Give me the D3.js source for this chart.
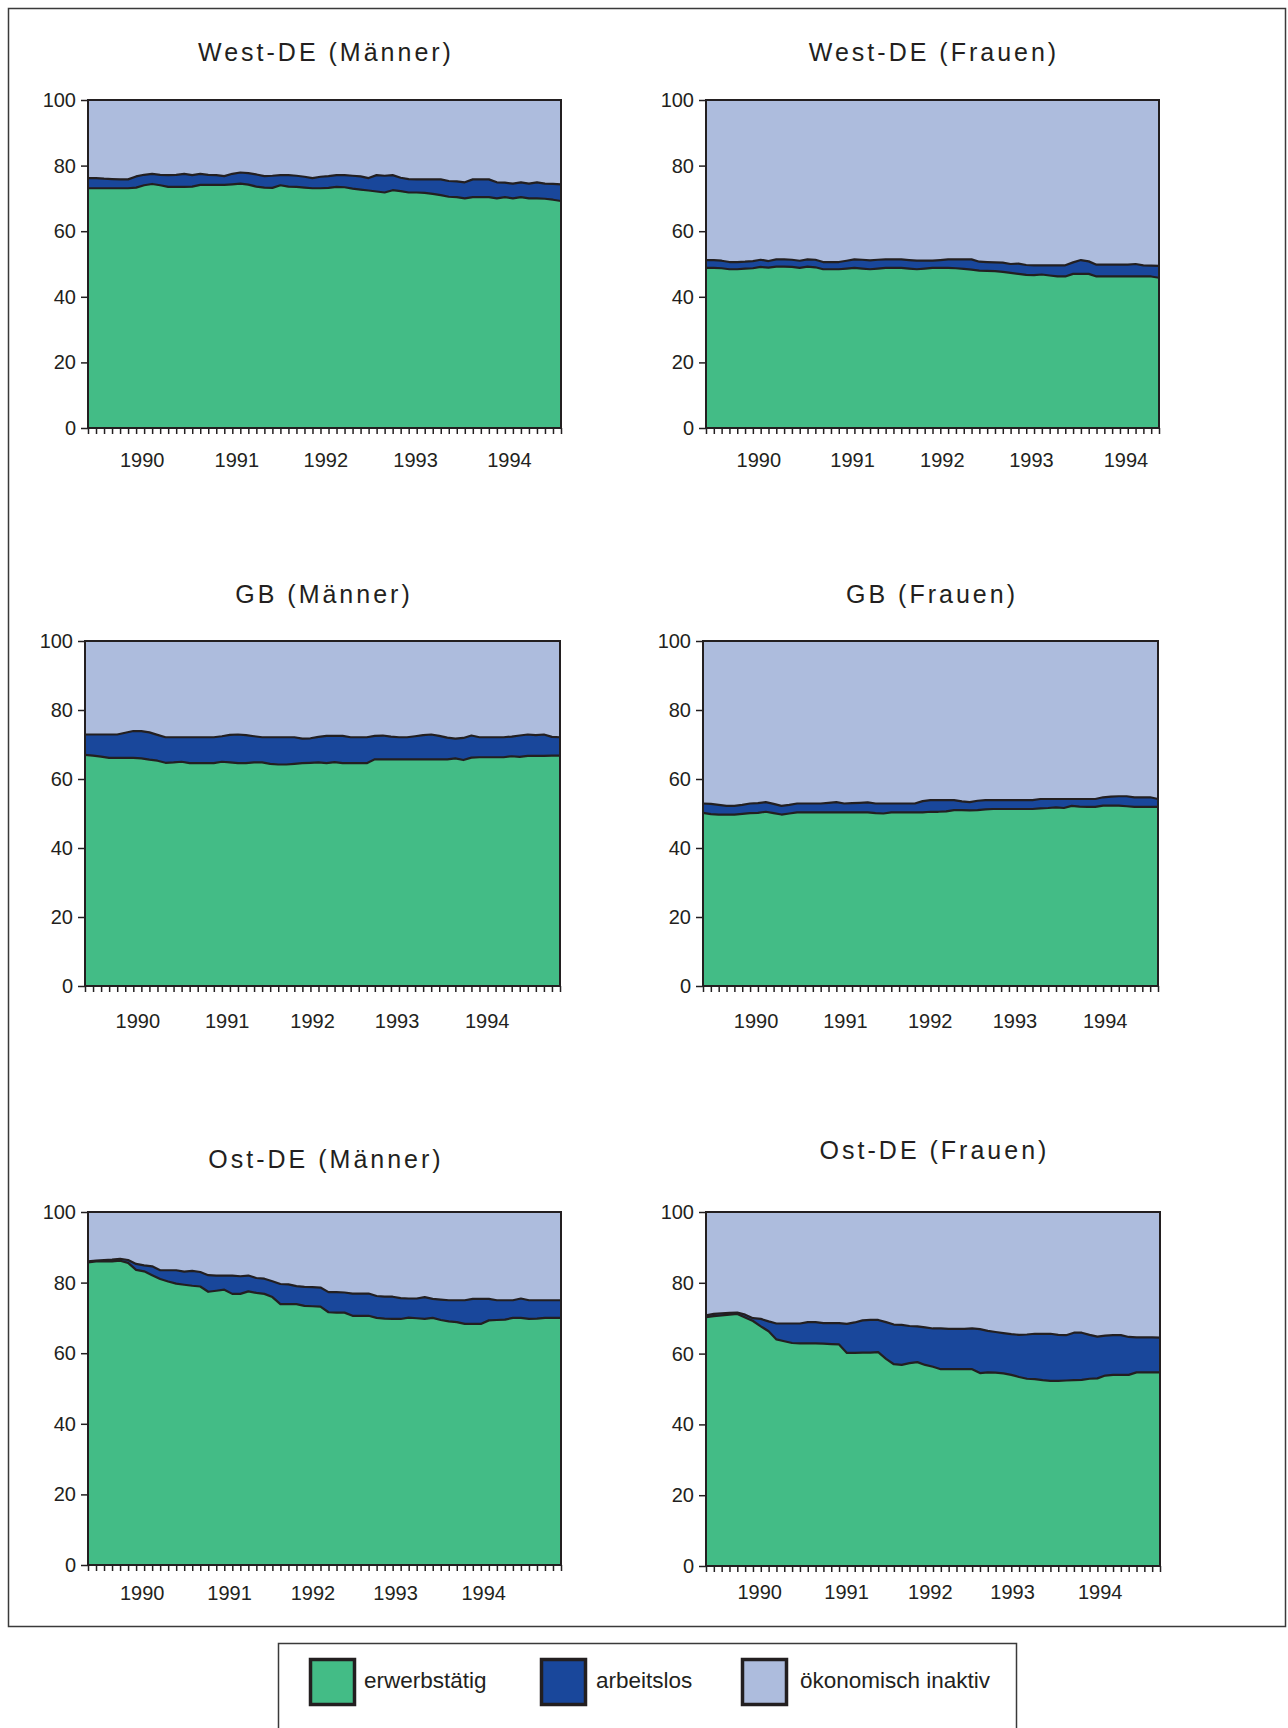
<!DOCTYPE html>
<html>
<head>
<meta charset="utf-8">
<script src="https://cdn.jsdelivr.net/npm/d3@7"></script>
<style>
  html, body { margin: 0; padding: 0; background: #fff; }
  svg { display: block; }
  text { font-family: "Liberation Sans", Arial, Helvetica, sans-serif; fill: #231f20; }
</style>
</head>
<body>
<script>
// ---------------- DATA ----------------
const yearLabels = ["1990", "1991", "1992", "1993", "1994"];
const seriesNames = ["erwerbstätig", "arbeitslos", "ökonomisch inaktiv"];
const panelTitles = ["West-DE (Männer)", "West-DE (Frauen)", "GB (Männer)", "GB (Frauen)", "Ost-DE (Männer)", "Ost-DE (Frauen)"];

// West-DE Männer (% erwerbstätig, % arbeitslos)
const westM_erwerbstaetig = [73.1,73.1,73.1,73.1,73.1,73.1,73.3,74.0,74.4,74.0,73.5,73.5,73.5,73.6,74.1,74.1,74.1,74.1,74.3,74.5,74.2,73.6,73.3,73.2,74.0,73.6,73.5,73.3,73.1,73.1,73.2,73.5,73.4,73.0,72.7,72.4,72.1,71.8,72.5,72.2,71.8,71.8,71.7,71.4,71.0,70.5,70.4,70.0,70.4,70.4,70.4,70.0,70.4,70.0,70.4,70.0,70.0,69.9,69.6,69.2];
const westM_arbeitslos = [3.1,3.1,2.9,2.8,2.7,2.7,3.4,3.2,3.1,3.2,3.6,3.7,4.0,3.5,3.4,3.1,3.0,2.7,3.2,3.4,3.5,3.7,3.5,3.7,3.1,3.5,3.4,3.3,3.1,3.5,3.6,3.6,3.7,3.9,4.0,3.8,5.0,5.1,4.6,4.1,4.1,4.0,4.1,4.4,4.8,4.8,4.8,4.9,5.4,5.4,5.4,4.9,4.4,4.5,4.5,4.5,4.9,4.6,4.8,5.1];
const westM_yearPos = [6.7, 18.5, 29.6, 40.8, 52.5];

// West-DE Frauen
const westF_erwerbstaetig = [48.8,48.8,48.7,48.4,48.4,48.6,48.7,49.1,48.9,49.2,49.2,49.1,48.8,49.2,49.0,48.4,48.4,48.4,48.6,48.8,48.6,48.4,48.6,48.8,48.8,48.8,48.6,48.4,48.6,48.8,48.8,48.8,48.7,48.5,48.3,48.0,47.9,47.8,47.6,47.3,47.0,46.7,46.6,46.8,46.5,46.2,46.2,47.0,47.0,47.0,46.2,46.2,46.2,46.2,46.2,46.2,46.2,46.2,45.8];
const westF_arbeitslos = [2.4,2.4,2.3,2.2,2.2,2.1,2.2,2.2,2.0,2.2,2.2,2.2,2.2,2.2,2.3,2.2,2.2,2.2,2.4,2.6,2.7,2.7,2.7,2.6,2.6,2.6,2.6,2.6,2.4,2.2,2.4,2.6,2.7,2.9,3.1,2.7,2.7,2.7,2.8,2.7,3.1,3.0,3.0,2.8,3.1,3.4,3.4,3.5,4.2,3.8,3.6,3.6,3.6,3.6,3.6,3.8,3.4,3.3,3.6];
const westF_yearPos = [6.7, 18.7, 30.2, 41.6, 53.7];

// GB Männer
const gbM_erwerbstaetig = [67.0,66.8,66.5,66.1,66.1,66.1,66.1,66.0,65.6,65.3,64.7,64.8,65.0,64.6,64.6,64.6,64.6,65.0,64.8,64.6,64.6,64.8,64.8,64.4,64.2,64.2,64.4,64.6,64.7,64.8,64.6,64.9,64.6,64.6,64.6,64.6,65.7,65.7,65.7,65.7,65.7,65.7,65.7,65.7,65.7,65.7,66.0,65.5,66.2,66.3,66.3,66.3,66.3,66.6,66.4,66.7,66.7,66.7,66.8,66.8];
const gbM_arbeitslos = [5.9,6.1,6.4,6.8,6.8,7.3,7.8,7.9,7.9,7.5,7.4,7.3,7.1,7.5,7.5,7.5,7.5,7.4,8.0,8.3,8.1,7.6,7.3,7.7,7.9,7.9,7.7,7.1,7.1,7.4,7.9,7.6,7.9,7.5,7.5,7.5,6.8,6.9,6.6,6.4,6.4,6.7,7.0,7.2,6.8,6.3,5.7,6.4,6.4,5.8,5.8,5.8,5.8,5.7,6.2,6.2,6.0,6.2,5.4,5.3];
const gbM_yearPos = [6.5, 17.6, 28.2, 38.7, 49.9];

// GB Frauen
const gbF_erwerbstaetig = [50.2,49.8,49.7,49.7,49.7,49.9,50.1,50.2,50.5,50.1,49.7,50.0,50.3,50.3,50.3,50.3,50.3,50.3,50.3,50.3,50.3,50.3,50.1,50.0,50.3,50.3,50.3,50.3,50.3,50.5,50.5,50.6,51.0,51.0,50.9,51.0,51.2,51.3,51.3,51.3,51.3,51.3,51.3,51.5,51.6,51.8,51.6,52.2,52.0,51.9,51.9,52.3,52.3,52.3,52.1,51.9,51.9,51.9,51.9];
const gbF_arbeitslos = [2.7,3.0,2.8,2.5,2.5,2.6,2.8,2.8,2.8,2.7,2.5,2.5,2.6,2.6,2.6,2.6,2.8,3.0,2.6,2.7,2.8,2.9,2.8,2.9,2.6,2.6,2.6,2.6,3.3,3.4,3.4,3.3,2.9,2.5,2.4,2.7,2.7,2.6,2.6,2.6,2.6,2.6,2.6,2.7,2.6,2.4,2.6,2.0,2.2,2.3,2.3,2.4,2.6,2.7,2.9,2.8,2.8,2.8,2.3];
const gbF_yearPos = [6.7, 18.1, 28.9, 39.7, 51.2];

// Ost-DE Männer
const ostM_erwerbstaetig = [85.7,86.0,86.1,86.0,86.2,85.6,83.6,83.2,82.1,81.0,80.3,79.7,79.4,79.1,78.9,77.4,77.7,78.0,76.8,76.8,77.5,77.1,76.8,75.9,73.9,73.9,73.9,73.4,73.3,73.2,71.6,71.5,71.5,70.6,70.6,70.6,70.0,69.8,69.7,69.7,70.1,69.9,69.7,70.0,69.4,69.0,68.8,68.3,68.3,68.3,69.3,69.4,69.5,70.0,70.0,69.7,69.8,70.0,70.0,70.0];
const ostM_arbeitslos = [0.3,0.2,0.3,0.5,0.5,0.8,1.7,1.7,2.5,2.5,3.2,3.8,3.7,4.2,4.1,4.7,4.3,4.0,5.2,5.0,4.5,4.2,4.3,4.5,5.7,5.6,5.1,5.4,5.4,5.4,5.7,5.8,5.7,6.3,6.3,6.3,6.2,6.2,6.3,5.9,5.4,5.6,6.2,5.4,5.8,6.0,6.2,6.7,7.1,7.1,6.1,5.6,5.5,5.0,5.5,5.3,5.2,5.0,5.0,5.0];
const ostM_yearPos = [6.7, 17.6, 28.0, 38.3, 49.3];

// Ost-DE Frauen
const ostF_erwerbstaetig = [70.3,70.6,70.8,71.0,71.2,70.2,69.2,67.7,66.3,64.0,63.5,63.0,62.9,62.9,62.9,62.8,62.7,62.6,60.2,60.2,60.3,60.3,60.4,58.5,57.0,56.8,57.3,57.6,56.8,56.3,55.6,55.6,55.6,55.6,55.6,54.5,54.7,54.6,54.4,54.0,53.4,52.9,52.8,52.5,52.3,52.3,52.4,52.5,52.6,52.9,53.0,53.8,54.0,54.0,54.0,54.7,54.7,54.7,54.7];
const ostF_arbeitslos = [0.5,0.6,0.6,0.5,0.4,0.8,0.8,2.1,2.8,4.5,5.0,5.5,5.6,6.0,6.0,5.8,5.9,6.0,8.2,8.6,9.1,9.2,9.1,10.4,11.2,11.3,10.5,10.1,10.6,10.8,11.5,11.4,11.4,11.4,11.5,12.4,11.7,11.5,11.4,11.5,11.9,12.5,12.8,13.1,13.3,13.0,12.8,13.4,13.3,12.4,11.8,11.3,11.2,11.2,10.7,9.9,9.9,9.9,9.8];
const ostF_yearPos = [6.8, 17.9, 28.6, 39.1, 50.3];

const yTickValues = [0, 20, 40, 60, 80, 100];

// ---------------- LAYOUT / STYLE ----------------
const W = 1288, H = 1728;
const colors = ["#43bc86", "#19479b", "#adbcdd"];
const ink = "#231f20";

const panels = [
  { title: panelTitles[0], erw: westM_erwerbstaetig, arb: westM_arbeitslos, years: westM_yearPos },
  { title: panelTitles[1], erw: westF_erwerbstaetig, arb: westF_arbeitslos, years: westF_yearPos },
  { title: panelTitles[2], erw: gbM_erwerbstaetig, arb: gbM_arbeitslos, years: gbM_yearPos },
  { title: panelTitles[3], erw: gbF_erwerbstaetig, arb: gbF_arbeitslos, years: gbF_yearPos },
  { title: panelTitles[4], erw: ostM_erwerbstaetig, arb: ostM_arbeitslos, years: ostM_yearPos },
  { title: panelTitles[5], erw: ostF_erwerbstaetig, arb: ostF_arbeitslos, years: ostF_yearPos }
];

const layout = [
  { left: 88,  right: 561,  top: 100,  bottom: 428,  titleY: 61,   yearY: 467 },
  { left: 706, right: 1159, top: 100,  bottom: 428,  titleY: 61,   yearY: 467 },
  { left: 85,  right: 560,  top: 641,  bottom: 986,  titleY: 603,  yearY: 1028 },
  { left: 703, right: 1158, top: 641,  bottom: 986,  titleY: 603,  yearY: 1028 },
  { left: 88,  right: 561,  top: 1212, bottom: 1565, titleY: 1168, yearY: 1600 },
  { left: 706, right: 1160, top: 1212, bottom: 1566, titleY: 1159, yearY: 1599 }
];

const svg = d3.select("body").append("svg")
  .attr("width", W).attr("height", H)
  .attr("viewBox", `0 0 ${W} ${H}`);

svg.append("rect").attr("x", 0).attr("y", 0).attr("width", W).attr("height", H).attr("fill", "#fff");

// outer frame
svg.append("rect")
  .attr("x", 8.5).attr("y", 8.5).attr("width", 1277).attr("height", 1618)
  .attr("fill", "none").attr("stroke", "#3a3a3a").attr("stroke-width", 1.5);

panels.forEach((p, k) => {
  const L = layout[k];
  const N = p.erw.length;
  const rows = d3.range(N).map(i => ({
    erw: p.erw[i],
    arb: p.arb[i],
    ina: 100 - p.erw[i] - p.arb[i]
  }));
  const series = d3.stack().keys(["erw", "arb", "ina"])(rows);

  const x = d3.scaleLinear().domain([0, N - 1]).range([L.left, L.right]);
  const y = d3.scaleLinear().domain([0, 100]).range([L.bottom, L.top]);

  const g = svg.append("g");

  // title
  g.append("text")
    .attr("x", (L.left + L.right) / 2 + 1.5)
    .attr("y", L.titleY)
    .attr("text-anchor", "middle")
    .attr("font-size", 25)
    .attr("letter-spacing", 3)
    .text(p.title);

  // areas
  const area = d3.area()
    .x((d, i) => x(i))
    .y0(d => y(d[0]))
    .y1(d => y(d[1]));
  g.selectAll("path.area").data(series).join("path")
    .attr("class", "area")
    .attr("fill", (d, i) => colors[i])
    .attr("d", area);

  // boundary lines
  const line = d3.line().x((d, i) => x(i)).y(d => y(d[1]));
  g.selectAll("path.bound").data(series.slice(0, 2)).join("path")
    .attr("class", "bound")
    .attr("fill", "none")
    .attr("stroke", ink)
    .attr("stroke-width", 2.2)
    .attr("stroke-linejoin", "round")
    .attr("d", line);

  // plot border
  g.append("rect")
    .attr("x", L.left).attr("y", L.top)
    .attr("width", L.right - L.left).attr("height", L.bottom - L.top)
    .attr("fill", "none").attr("stroke", ink).attr("stroke-width", 2);

  // y axis
  const yAxis = g.append("g")
    .attr("transform", `translate(${L.left},0)`)
    .call(d3.axisLeft(y).tickValues(yTickValues).tickSize(7).tickPadding(5));
  yAxis.select(".domain").remove();
  yAxis.selectAll(".tick line").attr("stroke", ink).attr("stroke-width", 1.5);
  yAxis.selectAll(".tick text")
    .attr("font-size", 20)
    .attr("font-family", "Liberation Sans, Arial, sans-serif")
    .attr("fill", ink);

  // x axis minor ticks (one per observation)
  const xAxis = g.append("g")
    .attr("transform", `translate(0,${L.bottom})`)
    .call(d3.axisBottom(x).tickValues(d3.range(N)).tickSize(6).tickFormat(""));
  xAxis.select(".domain").remove();
  xAxis.selectAll(".tick line").attr("stroke", ink).attr("stroke-width", 1.5);

  // year labels
  const yearAxis = g.append("g")
    .attr("transform", `translate(0,${L.bottom})`)
    .call(d3.axisBottom(x).tickValues(p.years).tickSize(0)
      .tickFormat((d, i) => yearLabels[i]));
  yearAxis.select(".domain").remove();
  yearAxis.selectAll(".tick text")
    .attr("y", L.yearY - L.bottom)
    .attr("dy", 0)
    .attr("font-size", 20)
    .attr("font-family", "Liberation Sans, Arial, sans-serif")
    .attr("fill", ink);
});

// ---------------- LEGEND ----------------
const lg = svg.append("g");
lg.append("rect")
  .attr("x", 278.5).attr("y", 1643.5).attr("width", 738).attr("height", 120)
  .attr("fill", "#fff").attr("stroke", "#3a3a3a").attr("stroke-width", 1.5);

const legendPos = [310.5, 541.5, 742.5];
const legendTextPos = [364, 596, 800];
seriesNames.forEach((name, i) => {
  lg.append("rect")
    .attr("x", legendPos[i]).attr("y", 1659.5)
    .attr("width", 44).attr("height", 45)
    .attr("fill", colors[i]).attr("stroke", ink).attr("stroke-width", 3.5);
  lg.append("text")
    .attr("x", legendTextPos[i]).attr("y", 1688)
    .attr("font-size", 22.5)
    .text(name);
});
</script>
</body>
</html>
